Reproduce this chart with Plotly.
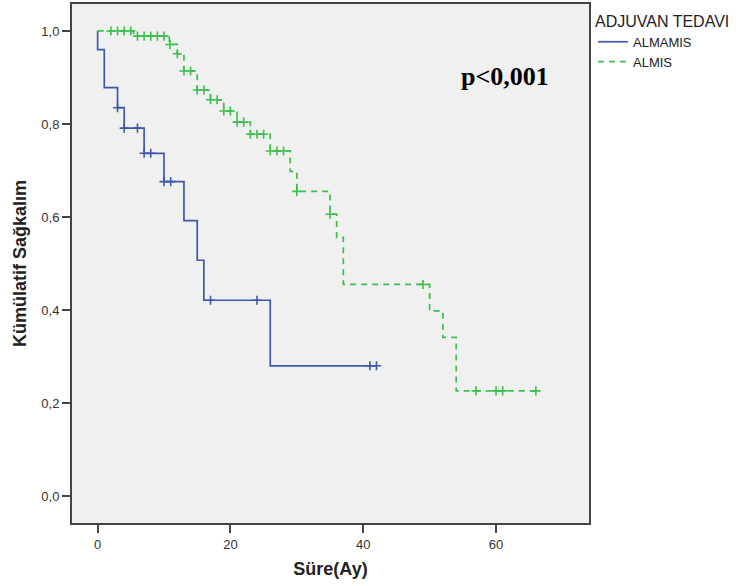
import numpy as np
import plotly.graph_objects as go

# Kaplan-Meier step data, grouped by adjuvant therapy
almamis_event_t = [0, 1, 3, 4, 7, 10, 13, 15, 16, 26]
almamis_surv = [0.960, 0.878, 0.835, 0.791, 0.737, 0.676, 0.592, 0.507, 0.421, 0.280]
almamis_end_t = 42
almamis_censor_t = [3, 4, 6, 7, 8, 10, 11, 17, 24, 41, 42]

almis_event_t = [5.4, 10.8, 12, 13, 15, 17, 19, 21, 23, 26, 29, 30, 35, 36, 37, 50, 52, 54]
almis_surv = [0.989, 0.971, 0.951, 0.914, 0.873, 0.852, 0.828, 0.804, 0.778, 0.742,
              0.698, 0.655, 0.606, 0.556, 0.455, 0.398, 0.341, 0.226]
almis_end_t = 66
almis_censor_t = [2, 3, 4, 5, 6, 7, 8, 9, 10, 10.9, 12, 13, 14, 15, 16, 17, 18, 19, 20,
                  21, 22, 23, 24, 25, 26, 27, 28, 30, 35, 49, 57, 60, 61, 66]

x_tick_vals = [0, 20, 40, 60]
y_tick_vals = [0.0, 0.2, 0.4, 0.6, 0.8, 1.0]
y_tick_text = ["0,0", "0,2", "0,4", "0,6", "0,8", "1,0"]

group_names = ["ALMAMIS", "ALMIS"]
legend_title = "ADJUVAN TEDAVI"
p_text = "p<0,001"

BLUE = "#3e58ac"
GREEN = "#3cbf4b"


def step_xy(event_t, surv, end_t):
    xs = [0.0] + list(event_t) + [end_t]
    ys = [1.0] + list(surv) + [surv[-1]]
    return xs, ys


def censor_y(event_t, surv, censor_t):
    levels = np.concatenate([[1.0], surv])
    idx = np.searchsorted(np.asarray(event_t, float), np.asarray(censor_t, float), side="right")
    return levels[idx]


fig = go.Figure()

for name, ev, sv, end, cens, color, dash in [
    (group_names[0], almamis_event_t, almamis_surv, almamis_end_t, almamis_censor_t, BLUE, "solid"),
    (group_names[1], almis_event_t, almis_surv, almis_end_t, almis_censor_t, GREEN, "6px,5px"),
]:
    xs, ys = step_xy(ev, sv, end)
    fig.add_trace(go.Scatter(
        x=xs, y=ys, mode="lines", name=name,
        line=dict(color=color, width=1.7, shape="hv", dash=dash),
    ))
    fig.add_trace(go.Scatter(
        x=cens, y=censor_y(ev, sv, cens), mode="markers", showlegend=False,
        hoverinfo="skip",
        marker=dict(symbol="cross-thin", size=6.5, line=dict(color=color, width=1.6)),
    ))

axis_common = dict(
    showgrid=False, zeroline=False, showline=True, mirror=True,
    linecolor="#444444", linewidth=2,
    ticks="outside", ticklen=8, tickwidth=2, tickcolor="#444444",
    tickfont=dict(family="Liberation Sans, Arial, sans-serif", size=13, color="#333333"),
)

fig.update_xaxes(
    range=[-3.86, 74.0], tickvals=x_tick_vals,
    title=dict(text="<b>Süre(Ay)</b>", standoff=12,
               font=dict(family="Liberation Sans, Arial, sans-serif", size=18, color="#222222")),
    **axis_common,
)
fig.update_yaxes(
    range=[-0.058, 1.058], tickvals=y_tick_vals, ticktext=y_tick_text,
    title=dict(text="<b>Kümülatif Sağkalım</b>", standoff=10,
               font=dict(family="Liberation Sans, Arial, sans-serif", size=18, color="#222222")),
    **axis_common,
)

fig.add_annotation(
    text=f"<b>{p_text}</b>", xref="paper", yref="paper", x=0.8375, y=0.86,
    xanchor="center", yanchor="middle", showarrow=False,
    font=dict(family="Liberation Serif, Times New Roman, serif", size=26, color="#000000"),
)

fig.update_layout(
    width=740, height=586,
    margin=dict(l=72, r=151, t=2, b=63),
    paper_bgcolor="#ffffff", plot_bgcolor="#f0f0f0",
    showlegend=True,
    legend=dict(
        title=dict(text=legend_title,
                   font=dict(family="Liberation Sans, Arial, sans-serif", size=16, color="#222222")),
        font=dict(family="Liberation Sans, Arial, sans-serif", size=13, color="#222222"),
        x=1.0 + 4 / 517, xanchor="left", y=1.0 - 2 / 521, yanchor="top",
        bgcolor="rgba(0,0,0,0)", itemwidth=30, tracegroupgap=0,
    ),
)

fig.write_html("out.html")
